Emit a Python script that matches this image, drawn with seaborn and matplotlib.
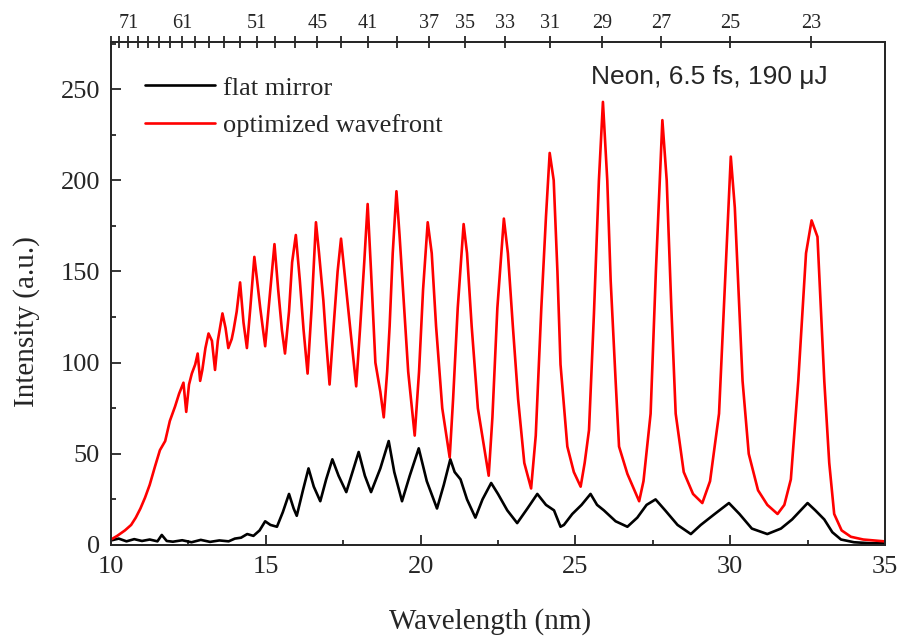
import numpy as np
import pandas as pd
import seaborn as sns
import matplotlib.pyplot as plt
from matplotlib.ticker import MultipleLocator

# Spectra (wavelength in nm, intensity in a.u.)
red_wl = [10.00, 10.20, 10.45, 10.65, 10.80, 10.95, 11.10, 11.25, 11.42, 11.58,
          11.75, 11.90, 12.07, 12.20, 12.34, 12.43, 12.52, 12.61, 12.72, 12.80,
          12.88, 12.95, 13.05, 13.15, 13.26, 13.36, 13.45, 13.60, 13.70, 13.79,
          13.90, 13.96, 14.06, 14.17, 14.28, 14.39, 14.50, 14.63, 14.72, 14.82,
          14.98, 15.12, 15.28, 15.40, 15.52, 15.62, 15.75, 15.85, 15.97, 16.10,
          16.22, 16.35, 16.48, 16.62, 16.72, 16.86, 16.95, 17.06, 17.20, 17.32,
          17.43, 17.55, 17.62, 17.75, 17.92, 18.05, 18.18, 18.29, 18.40, 18.54,
          18.70, 18.81, 18.92, 19.00, 19.10, 19.22, 19.32, 19.45, 19.60, 19.81,
          19.95, 20.08, 20.23, 20.36, 20.50, 20.70, 20.94, 21.05, 21.20, 21.39,
          21.50, 21.65, 21.85, 22.20, 22.32, 22.48, 22.69, 22.82, 22.98, 23.15,
          23.35, 23.57, 23.72, 23.90, 24.05, 24.17, 24.30, 24.42, 24.52, 24.74,
          24.95, 25.17, 25.30, 25.44, 25.60, 25.76, 25.89, 26.03, 26.14, 26.30,
          26.41, 26.68, 27.06, 27.20, 27.43, 27.60, 27.81, 27.95, 28.10, 28.24,
          28.50, 28.80, 29.10, 29.35, 29.64, 29.85, 30.02, 30.15, 30.40, 30.60,
          30.90, 31.20, 31.53, 31.75, 31.96, 32.20, 32.45, 32.63, 32.82, 33.04,
          33.20, 33.36, 33.60, 33.90, 34.30, 34.98]
red_int = [3, 5, 8, 11, 15, 20, 26, 33, 43, 52,
           57, 68, 76, 83, 89, 73, 88, 94, 99, 105,
           90, 96, 108, 116, 112, 96, 112, 127, 119, 108,
           113, 118, 128, 144, 122, 108, 130, 158, 145, 130,
           109, 135, 165, 140, 118, 105, 128, 155, 170, 145,
           118, 94, 130, 177, 160, 134, 112, 88, 122, 150,
           168, 148, 136, 115, 87, 120, 155, 187, 150, 100,
           84, 70, 95, 120, 160, 194, 170, 135, 95, 60,
           95, 140, 177, 160, 120, 75, 48, 80, 130, 176,
           160, 120, 75, 38, 70, 130, 179, 160, 120, 80,
           45, 31, 60, 130, 180, 215, 200, 150, 99, 54,
           40, 32, 45, 63, 127, 200, 243, 200, 145, 90,
           54, 39, 24, 35, 72, 150, 233, 200, 130, 72,
           40, 28, 23, 35, 72, 150, 213, 185, 90, 50,
           30, 22, 17, 22, 36, 90, 160, 178, 169, 90,
           45, 17, 8, 4.5, 3, 2]

black_wl = [10.00, 10.25, 10.50, 10.75, 11.00, 11.25, 11.50, 11.64, 11.80, 12.00,
            12.30, 12.60, 12.90, 13.20, 13.50, 13.80, 14.00, 14.20, 14.40, 14.60,
            14.80, 14.98, 15.15, 15.36, 15.55, 15.75, 15.90, 16.00, 16.20, 16.38,
            16.55, 16.76, 16.95, 17.15, 17.35, 17.60, 17.80, 18.00, 18.20, 18.40,
            18.70, 18.97, 19.15, 19.40, 19.65, 19.94, 20.20, 20.53, 20.75, 20.96,
            21.10, 21.29, 21.50, 21.77, 22.00, 22.28, 22.50, 22.80, 23.12, 23.45,
            23.77, 24.05, 24.31, 24.52, 24.63, 24.90, 25.20, 25.49, 25.70, 25.92,
            26.30, 26.68, 27.00, 27.30, 27.59, 27.90, 28.30, 28.73, 29.05, 29.50,
            29.96, 30.30, 30.70, 31.20, 31.64, 32.00, 32.50, 32.75, 33.04, 33.30,
            33.58, 34.00, 34.50, 34.98]
black_int = [2.5, 3.5, 2.0, 3.2, 2.2, 3.0, 2.0, 5.5, 2.2, 1.8,
             2.6, 1.5, 2.8, 1.7, 2.5, 2.0, 3.5, 4.0, 6.0, 5.0,
             8.0, 13, 11, 10, 18, 28, 20, 16, 30, 42,
             32, 24, 36, 47, 38, 29, 40, 51, 38, 29,
             42, 57, 40, 24, 38, 53, 35, 20, 33, 47,
             40, 36, 25, 15, 25, 34, 28, 19, 12, 20,
             28, 22, 19, 10, 11, 17, 22, 28, 22, 19,
             13, 10, 15, 22, 25, 19, 11, 6, 11, 17,
             23, 17, 9, 6, 9, 14, 23, 19, 14, 7,
             3, 1.5, 1, 1]

# Harmonic orders on the top axis (fundamental ~750 nm)
fund_nm = 750
harm_ticks = list(range(23, 76, 2))
harm_labels = [23, 25, 27, 29, 31, 33, 35, 37, 41, 45, 51, 61, 71]

flat = pd.DataFrame({"wl": black_wl, "I": black_int})
opt = pd.DataFrame({"wl": red_wl, "I": red_int})

sns.set_style("ticks")
plt.rcParams["font.family"] = ["Liberation Serif", "DejaVu Serif"]

fig, ax = plt.subplots(figsize=(9.01, 6.36), dpi=100)
fig.subplots_adjust(left=0.1232, right=0.9822, bottom=0.1431, top=0.9344)

sns.lineplot(data=flat, x="wl", y="I", color="black", lw=1.9, ax=ax,
             label="flat mirror", sort=False)
sns.lineplot(data=opt, x="wl", y="I", color="red", lw=1.9, ax=ax,
             label="optimized wavefront", sort=False)

ax.set_xlim(10, 35)
ax.set_ylim(0, 276)
ax.xaxis.set_major_locator(MultipleLocator(5))
ax.xaxis.set_minor_locator(MultipleLocator(2.5))
ax.yaxis.set_major_locator(MultipleLocator(50))
ax.yaxis.set_minor_locator(MultipleLocator(25))
ax.tick_params(which="both", direction="in", top=False, right=False,
               labelsize=19, width=1.3, pad=8)
ax.tick_params(which="major", length=7)
ax.tick_params(which="minor", length=3.5)
for s in ax.spines.values():
    s.set_linewidth(1.3)

ax.set_xlabel("Wavelength (nm)", fontsize=21)
ax.set_ylabel("Intensity (a.u.)", fontsize=21)
ax.xaxis.set_label_coords(0.49, -0.126)
ax.yaxis.set_label_coords(-0.092, 0.443)

ax.legend(loc="upper left", bbox_to_anchor=(0.0135, 0.979), frameon=False,
          fontsize=19, handlelength=2.65, handletextpad=0.3, labelspacing=0.53)

ax.text(0.62, 0.93, "Neon, 6.5 fs, 190 μJ", transform=ax.transAxes,
        fontsize=19, family=["Liberation Sans", "DejaVu Sans"], va="center")

# top axis with harmonic orders
top = ax.twiny()
top.set_xlim(ax.get_xlim())
pos = [fund_nm / q for q in harm_ticks if fund_nm / q >= 10]
top.set_xticks(pos)
top.set_xticklabels([str(q) if q in harm_labels else "" for q in harm_ticks
                     if fund_nm / q >= 10])
top.tick_params(axis="x", direction="inout", length=8, width=1.3,
                labelsize=14.5, pad=2)
top.xaxis.set_minor_locator(plt.NullLocator())
for s in top.spines.values():
    s.set_linewidth(1.3)

plt.savefig("out.png", dpi=100)
